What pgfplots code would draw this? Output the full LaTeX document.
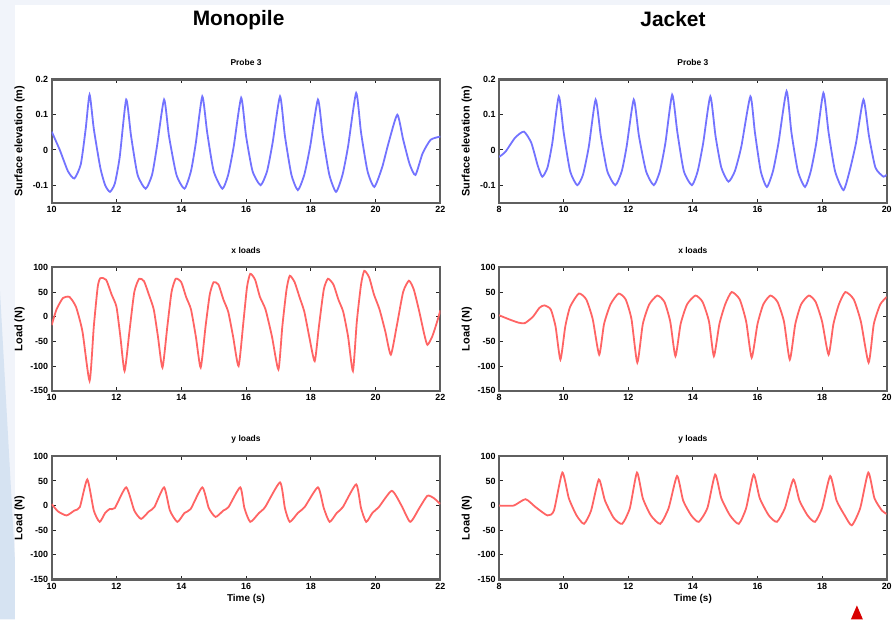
\documentclass[border=0pt]{standalone}
\usepackage{pgfplots}
\pgfplotsset{compat=1.18}
\usepackage{fontspec}
\setmainfont{Liberation Sans}
\definecolor{bgpale}{RGB}{241,244,250}
\definecolor{bgblue}{RGB}{214,227,242}
\definecolor{frame}{RGB}{95,95,95}
\definecolor{wblue}{RGB}{115,115,255}
\definecolor{wred}{RGB}{255,100,100}
\pgfplotsset{
 panel/.style={
  width=391pt, height=124pt, scale only axis, anchor=south west,
  axis line style={line width=2.2pt, frame},
  tick style={black!85, line width=1pt}, major tick length=4pt, tick align=inside,
  tick label style={font=\fontsize{9}{10}\selectfont\bfseries},
  /pgf/number format/assume math mode=true,
  title style={font=\fontsize{8.5}{9}\selectfont\bfseries, yshift=4pt},
  ylabel style={font=\fontsize{11}{12}\selectfont\bfseries, at={(axis description cs:-0.083,0.5)}, anchor=center},
  xlabel style={font=\fontsize{10}{11}\selectfont\bfseries, yshift=2pt},
  every axis plot/.append style={line width=1.8pt, smooth, tension=0.35},
 },
 probe/.style={panel, ymin=-0.15, ymax=0.2, ytick={-0.1,0,0.1,0.2}, title={Probe 3}, ylabel={Surface elevation (m)}},
 force/.style={panel, ymin=-150, ymax=100, ytick={-150,-100,-50,0,50,100}, ylabel={Load (N)}},
 leftx/.style={xmin=10, xmax=22, xtick={10,12,...,22}},
 rightx/.style={xmin=8, xmax=20, xtick={8,10,...,20}},
}
\begin{document}
\begin{tikzpicture}[x=1pt,y=1pt]
\fill[bgpale] (0pt,0pt) rectangle (895pt,623pt);
\fill[white] (15pt,0pt) rectangle (895pt,618pt);
\fill[bgblue] (0pt,0pt) -- (15pt,0pt) -- (15pt,60pt) -- (0pt,330pt) -- cycle;
\node[font=\fontsize{21}{24}\selectfont\bfseries] at (240pt,603pt) {Monopile};
\node[font=\fontsize{21}{24}\selectfont\bfseries] at (677pt,604pt) {Jacket};
\fill[red!85!black] (856pt,0pt) -- (868pt,0pt) -- (862pt,14pt) -- cycle;

% ---------- Monopile probe
\begin{axis}[probe, leftx, at={(52pt,419pt)}]
\addplot[wblue] coordinates {
(10.00,0.052)(10.25,0.000)(10.50,-0.060)(10.70,-0.081)(10.90,-0.040)(11.05,0.060)(11.17,0.157)
(11.30,0.060)(11.50,-0.050)(11.65,-0.100)(11.80,-0.119)(11.95,-0.095)(12.10,-0.020)(12.30,0.143)
(12.45,0.040)(12.65,-0.070)(12.90,-0.110)(13.10,-0.070)(13.25,0.010)(13.47,0.143)
(13.62,0.040)(13.85,-0.070)(14.10,-0.110)(14.30,-0.060)(14.45,0.020)(14.65,0.152)
(14.80,0.050)(15.00,-0.060)(15.27,-0.110)(15.45,-0.070)(15.62,0.010)(15.85,0.148)
(16.00,0.040)(16.20,-0.060)(16.45,-0.100)(16.65,-0.060)(16.82,0.020)(17.05,0.152)
(17.20,0.040)(17.40,-0.070)(17.60,-0.114)(17.80,-0.070)(17.98,0.010)(18.22,0.143)
(18.37,0.040)(18.57,-0.070)(18.78,-0.119)(18.98,-0.070)(19.15,0.010)(19.40,0.162)
(19.55,0.050)(19.75,-0.060)(19.96,-0.105)(20.20,-0.050)(20.40,0.020)(20.67,0.100)
(20.85,0.030)(21.05,-0.040)(21.23,-0.071)(21.45,-0.010)(21.70,0.029)(22.00,0.038)
};
\end{axis}

% ---------- Jacket probe
\begin{axis}[probe, rightx, at={(502pt,419pt)}, width=390pt]
\addplot[wblue] coordinates {
(8.00,-0.020)(8.20,-0.005)(8.50,0.035)(8.77,0.052)(9.00,0.020)(9.20,-0.045)(9.34,-0.076)
(9.50,-0.050)(9.65,0.020)(9.85,0.152)(10.00,0.050)(10.20,-0.060)(10.42,-0.100)
(10.60,-0.070)(10.78,0.010)(10.99,0.143)(11.15,0.040)(11.35,-0.060)(11.60,-0.100)
(11.80,-0.060)(11.95,0.010)(12.17,0.143)(12.33,0.040)(12.55,-0.060)(12.79,-0.100)
(12.98,-0.060)(13.15,0.020)(13.36,0.157)(13.52,0.050)(13.72,-0.060)(13.97,-0.100)
(14.15,-0.060)(14.32,0.020)(14.54,0.152)(14.70,0.040)(14.88,-0.050)(15.10,-0.090)
(15.30,-0.060)(15.50,0.010)(15.78,0.152)(15.92,0.050)(16.10,-0.060)(16.29,-0.105)
(16.48,-0.060)(16.65,0.020)(16.90,0.167)(17.05,0.050)(17.25,-0.060)(17.47,-0.105)
(17.65,-0.060)(17.82,0.020)(18.04,0.162)(18.20,0.050)(18.40,-0.060)(18.66,-0.114)
(18.85,-0.060)(19.05,0.020)(19.28,0.143)(19.45,0.040)(19.65,-0.050)(19.90,-0.076)(20.00,-0.070)
};
\end{axis}

% ---------- Monopile x loads
\begin{axis}[force, leftx, at={(52pt,230pt)}, title={x loads}]
\addplot[wred] coordinates {
(10.00,-17)(10.15,15)(10.35,38)(10.55,40)(10.75,20)(10.95,-30)(11.17,-130)
(11.30,-20)(11.42,60)(11.50,78)(11.68,75)(11.85,45)(12.00,20)(12.12,-40)(12.25,-110)
(12.40,-30)(12.55,50)(12.70,77)(12.85,72)(13.00,45)(13.15,15)(13.28,-40)(13.42,-103)
(13.57,-20)(13.70,50)(13.83,77)(14.00,70)(14.15,40)(14.30,15)(14.45,-40)(14.60,-103)
(14.75,-20)(14.88,45)(15.00,70)(15.15,65)(15.30,35)(15.45,10)(15.60,-40)(15.77,-100)
(15.92,-10)(16.03,60)(16.13,87)(16.28,75)(16.43,40)(16.60,15)(16.80,-40)(17.00,-107)
(17.12,-20)(17.25,55)(17.35,83)(17.50,70)(17.65,40)(17.80,10)(17.95,-40)(18.12,-90)
(18.25,-20)(18.40,55)(18.53,77)(18.70,65)(18.85,35)(19.00,10)(19.15,-40)(19.30,-110)
(19.42,-10)(19.55,65)(19.65,93)(19.80,80)(19.95,45)(20.12,15)(20.30,-30)(20.47,-77)
(20.65,-20)(20.85,50)(21.03,73)(21.18,55)(21.35,10)(21.50,-35)(21.60,-57)(21.75,-40)(21.90,-10)(22.00,13)
};
\end{axis}

% ---------- Jacket x loads
\begin{axis}[force, rightx, at={(502pt,230pt)}, width=390pt, title={x loads}]
\addplot[wred] coordinates {
(8.00,3)(8.30,-5)(8.60,-12)(8.80,-13)(9.05,0)(9.25,18)(9.40,23)(9.60,15)(9.75,-20)(9.90,-87)
(10.05,-20)(10.20,20)(10.47,47)(10.70,35)(10.90,-5)(11.10,-77)
(11.25,-15)(11.45,25)(11.70,47)(11.92,35)(12.10,-5)(12.28,-93)
(12.45,-15)(12.65,25)(12.90,43)(13.12,30)(13.30,-10)(13.46,-80)
(13.62,-15)(13.82,25)(14.08,43)(14.30,30)(14.50,-10)(14.65,-80)
(14.82,-15)(15.00,25)(15.20,50)(15.45,35)(15.65,-10)(15.82,-83)
(16.00,-15)(16.18,25)(16.40,43)(16.62,30)(16.82,-10)(17.00,-87)
(17.17,-15)(17.35,25)(17.59,43)(17.80,30)(18.00,-10)(18.20,-77)
(18.35,-15)(18.52,25)(18.72,50)(18.98,35)(19.20,-10)(19.44,-93)
(19.60,-15)(19.80,25)(20.00,40)
};
\end{axis}

% ---------- Monopile y loads
\begin{axis}[force, leftx, at={(52pt,40pt)}, title={y loads}, xlabel={Time (s)}]
\addplot[wred] coordinates {
(10.00,3)(10.20,-12)(10.46,-20)(10.70,-10)(10.87,-3)(11.10,53)(11.30,-10)(11.48,-33)
(11.65,-15)(11.79,-7)(11.95,-5)(12.30,37)(12.55,-10)(12.76,-27)(13.00,-12)(13.17,-3)
(13.47,37)(13.65,-10)(13.88,-33)(14.10,-15)(14.29,-7)(14.65,37)(14.85,-5)(15.06,-23)
(15.30,-10)(15.46,-3)(15.82,37)(15.95,-5)(16.13,-33)(16.40,-15)(16.59,-3)(17.05,47)
(17.20,-5)(17.35,-33)(17.60,-15)(17.81,-3)(18.22,37)(18.40,-5)(18.58,-33)(18.80,-15)
(18.99,-3)(19.40,43)(19.55,-5)(19.71,-33)(19.90,-15)(20.10,-3)(20.50,30)(20.80,0)
(21.07,-33)(21.35,-5)(21.60,20)(21.80,15)(22.00,3)
};
\end{axis}

% ---------- Jacket y loads
\begin{axis}[force, rightx, at={(502pt,40pt)}, width=390pt, title={y loads}, xlabel={Time (s)}]
\addplot[wred] coordinates {
(8.00,0)(8.45,0)(8.82,13)(9.13,-3)(9.50,-20)(9.70,-10)(9.96,67)(10.16,15)(10.40,-20)
(10.63,-37)(10.85,-10)(11.09,53)(11.28,10)(11.55,-25)(11.81,-37)(12.05,-5)(12.27,67)
(12.45,15)(12.70,-20)(12.99,-37)(13.25,-5)(13.51,60)(13.70,10)(13.95,-20)(14.18,-33)
(14.45,-5)(14.69,63)(14.88,15)(15.15,-20)(15.42,-37)(15.65,-5)(15.88,63)(16.07,15)
(16.35,-20)(16.60,-33)(16.85,-5)(17.11,53)(17.30,10)(17.55,-20)(17.78,-33)(18.00,-5)
(18.25,60)(18.45,10)(18.70,-20)(18.92,-40)(19.18,-5)(19.43,67)(19.62,15)(19.85,-10)(20.00,-17)
};
\end{axis}
\end{tikzpicture}
\end{document}
